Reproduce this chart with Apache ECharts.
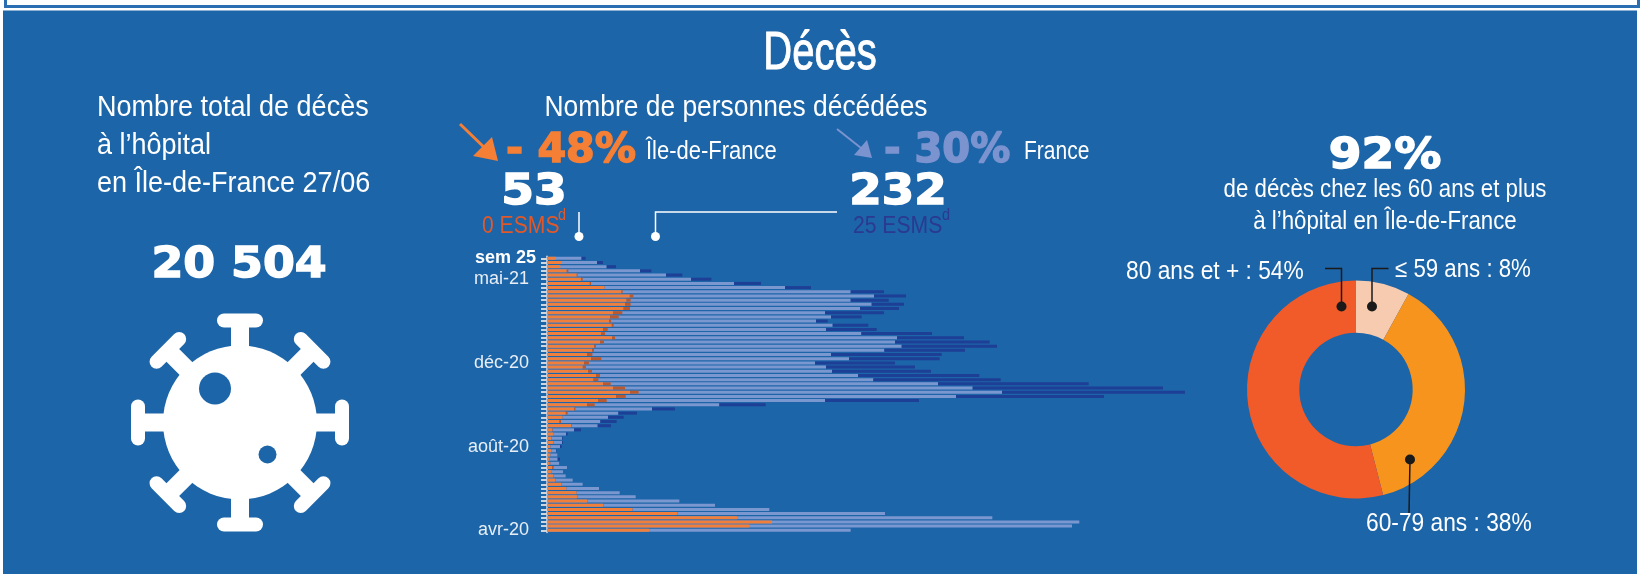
<!DOCTYPE html>
<html>
<head>
<meta charset="utf-8">
<title>Décès</title>
<script src="https://cdn.jsdelivr.net/npm/echarts@6/dist/echarts.min.js"></script>
<style>
html, body { margin: 0; padding: 0; background: #fff; }
#chart { width: 1642px; height: 574px; }
</style>
</head>
<body>
<div id="chart"></div>
<script>
// semaines, de la plus récente (sem 25) à la plus ancienne (avr-20)
var weekLabels = ['sem 25','','','','','mai-21','','','','','','','','','','','','','','','','','','','','déc-20','','','','','','','','','','','','','','','','','','','','août-20','','','','','','','','','','','','','','','','','','','','avr-20'];
var idfHosp = [53,88,80,118,178,204,256,344,446,496,476,468,458,396,378,372,388,336,324,390,318,282,270,240,264,222,214,246,294,278,336,396,498,414,306,240,162,112,92,74,144,30,38,24,36,18,24,18,16,16,30,28,36,48,84,114,176,180,240,336,512,780,1140,1350,1214,612];
var idfEsms = [0,0,0,10,6,10,8,2,8,22,26,34,40,56,52,12,12,28,24,18,24,12,12,32,62,30,20,24,24,30,46,72,52,58,52,46,8,12,2,10,4,4,2,2,2,2,2,2,2,4,10,2,2,2,2,2,2,2,2,2,2,2,0,0,0,0];
var frHosp = [207,300,358,558,714,864,1122,1428,1822,1962,1822,1948,1878,1668,1704,1614,1714,1674,1886,2100,2088,2128,2024,1704,1812,1608,1674,1710,1866,1958,2346,2554,2730,2454,1668,1034,630,428,366,320,304,162,114,90,90,78,54,64,64,74,120,96,112,154,214,312,436,532,794,1008,1334,2028,2672,3194,3150,1822];
var frEsms = [25,36,56,68,98,122,162,156,200,192,228,194,234,354,184,70,214,304,424,402,568,572,484,664,544,480,534,594,728,764,904,1142,1098,888,564,278,138,112,94,98,80,42,10,4,6,10,2,2,14,2,0,0,0,0,0,0,0,0,0,0,0,0,0,0,0,0];
var ageGroups = ['≤ 59 ans', '60-79 ans', '80 ans et +'];
var ageShares = [8, 38, 54];
var ageColors = ['#f7cbb0', '#f7941d', '#f15a29'];

var BLUE = '#1c65a8';
var SANS = '"Liberation Sans", sans-serif';
var HEAVY = '"DejaVu Sans", sans-serif';

// pas de police condensée installée : on resserre le texte avec scaleX
function txt(x, y, text, size, scaleX, color, align) {
  return {
    type: 'text', x: x, y: y, scaleX: scaleX, z: 20, silent: true,
    style: {
      text: text, fontSize: size, fill: color || '#fff', fontFamily: SANS,
      align: align || 'left', verticalAlign: 'middle'
    }
  };
}
function big(x, y, text, size, scaleX, color, align) {
  return {
    type: 'text', x: x, y: y, scaleX: scaleX, z: 20, silent: true,
    style: {
      text: text, fontSize: size, fill: color || '#fff', fontFamily: HEAVY, fontWeight: 'bold',
      align: align || 'center', verticalAlign: 'middle', stroke: color || '#fff', lineWidth: 1.5
    }
  };
}
function line(points, color, width) {
  return { type: 'polyline', z: 20, silent: true, shape: { points: points }, style: { stroke: color, lineWidth: width, fill: null } };
}
function dot(x, y, r, color) {
  return { type: 'circle', z: 21, silent: true, shape: { cx: x, cy: y, r: r }, style: { fill: color } };
}
function tri(points, color) {
  return { type: 'polygon', z: 20, silent: true, shape: { points: points }, style: { fill: color } };
}

// icone virus : un corps, huit pointes, deux trous
function virus(cx, cy) {
  var items = [];
  for (var i = 0; i < 8; i++) {
    items.push({
      type: 'group', x: cx, y: cy, rotation: i * Math.PI / 4, silent: true,
      children: [
        { type: 'rect', z: 10, shape: { x: -9, y: -100, width: 18, height: 40 }, style: { fill: '#fff' } },
        { type: 'rect', z: 10, shape: { x: -23, y: -109, width: 46, height: 14, r: 7 }, style: { fill: '#fff' } }
      ]
    });
  }
  items.push(dot(cx, cy, 77, '#fff'));
  items.push(dot(215, 388.5, 16, BLUE));
  items.push(dot(267.5, 454.5, 9, BLUE));
  return items;
}

var decesTitle = txt(820, 54, 'Décès', 54, 0.74, '#fff', 'center');
decesTitle.style.stroke = '#fff';
decesTitle.style.lineWidth = 1;

var graphics = [
  { type: 'rect', z: 0, silent: true, shape: { x: 3, y: 10.5, width: 1634, height: 564 }, style: { fill: BLUE } },
  { type: 'rect', z: 0, silent: true, shape: { x: 5.5, y: -10, width: 1633, height: 16.5 }, style: { fill: '#fff', stroke: '#2a6db0', lineWidth: 3 } },

  decesTitle,

  txt(97, 108, 'Nombre total de décès', 30, 0.9),
  txt(97, 146, 'à l’hôpital', 30, 0.9),
  txt(97, 184, 'en Île-de-France 27/06', 30, 0.9),
  big(239, 266, '20 504', 42, 1.09),

  txt(736, 108, 'Nombre de personnes décédées', 30, 0.88, '#fff', 'center'),
  line([[460, 124], [490, 153]], '#f47f35', 3),
  tri([[498, 161], [492, 137], [473, 156]], '#f47f35'),
  big(506, 152, '- 48%', 40, 1.03, '#f47f35', 'left'),
  txt(646, 152, 'Île-de-France', 25, 0.88),
  line([[837, 129], [866, 152]], '#7b93cf', 2),
  tri([[872, 158], [867, 140], [854, 155]], '#7b93cf'),
  big(884, 152, '- 30%', 40, 1.0, '#7b93cf', 'left'),
  txt(1024, 152, 'France', 25, 0.84),
  big(534, 193, '53', 42, 1.12),
  big(898, 193, '232', 42, 1.11),
  txt(482, 226, '0 ESMS', 24, 0.88, '#e0592a'),
  txt(558, 216, 'd', 16, 0.9, '#e0592a'),
  txt(853, 226, '25 ESMS', 24, 0.88, '#2b3990'),
  txt(942, 216, 'd', 16, 0.9, '#2b3990'),
  line([[579, 212], [579, 233]], '#fff', 1.5),
  dot(579, 236.5, 4.5, '#fff'),
  line([[837, 212], [655.5, 212], [655.5, 233]], '#fff', 1.5),
  dot(655.5, 236.5, 4.5, '#fff'),

  big(1385, 157, '92%', 42, 1.12),
  txt(1385, 190, 'de décès chez les 60 ans et plus', 25, 0.89, '#fff', 'center'),
  txt(1385, 222, 'à l’hôpital en Île-de-France', 25, 0.89, '#fff', 'center'),

  txt(1126, 272, ageGroups[2] + ' : ' + ageShares[2] + '%', 25, 0.91),
  txt(1395, 270, ageGroups[0] + ' : ' + ageShares[0] + '%', 25, 0.89),
  txt(1366, 524, ageGroups[1] + ' : ' + ageShares[1] + '%', 25, 0.91),
  line([[1325, 268.5], [1341.5, 268.5], [1341.5, 306]], '#1a1a1a', 1.5),
  dot(1341.5, 306.5, 5, '#1a1a1a'),
  line([[1388.5, 268.5], [1372, 268.5], [1372, 306]], '#1a1a1a', 1.5),
  dot(1372, 306.5, 5, '#1a1a1a'),
  line([[1410, 459], [1409, 513]], '#1a1a1a', 1.5),
  dot(1410, 459.5, 5, '#1a1a1a')
].concat(virus(240, 422.5));

var chart = echarts.init(document.getElementById('chart'), null, { renderer: 'canvas' });
chart.setOption({
  animation: false,
  backgroundColor: '#fff',
  graphic: { elements: graphics },
  grid: { left: 547, top: 256.2, width: 1000, height: 276.2, containLabel: false },
  xAxis: { type: 'value', min: 0, max: 6000, show: false },
  yAxis: {
    type: 'category', inverse: true, data: weekLabels,
    axisLine: { show: true, lineStyle: { color: '#d8dde4', width: 1.5 } },
    axisTick: { show: true, alignWithLabel: true, length: 6, lineStyle: { color: '#cfd6df', width: 2 } },
    axisLabel: {
      interval: 0, margin: 11,
      formatter: function (v) {
        if (!v) return '';
        return v === 'sem 25' ? '{b|' + v + '}' : '{a|' + v + '}';
      },
      rich: {
        a: { fontSize: 18, color: '#e8eef5', fontFamily: SANS, padding: [0, 7, 0, 0] },
        b: { fontSize: 18, fontWeight: 'bold', color: '#fff', fontFamily: SANS }
      }
    }
  },
  series: [
    { name: 'France hôpital', type: 'bar', stack: 'fr', barWidth: 3, barGap: '-100%', data: frHosp, itemStyle: { color: '#7b97cf' }, silent: true },
    { name: 'France ESMS', type: 'bar', stack: 'fr', barWidth: 3, data: frEsms, itemStyle: { color: '#1e3f96' }, silent: true },
    { name: 'IDF hôpital', type: 'bar', stack: 'idf', barWidth: 3, data: idfHosp, itemStyle: { color: '#f07f3c' }, silent: true },
    { name: 'IDF ESMS', type: 'bar', stack: 'idf', barWidth: 3, data: idfEsms, itemStyle: { color: '#b9592f' }, silent: true },
    {
      name: 'Âge', type: 'pie', center: [1356, 389.5], radius: [56.7, 109], startAngle: 90, silent: true,
      label: { show: false }, labelLine: { show: false },
      data: ageGroups.map(function (g, i) {
        return { name: g, value: ageShares[i], itemStyle: { color: ageColors[i] } };
      })
    }
  ]
});
</script>
</body>
</html>
